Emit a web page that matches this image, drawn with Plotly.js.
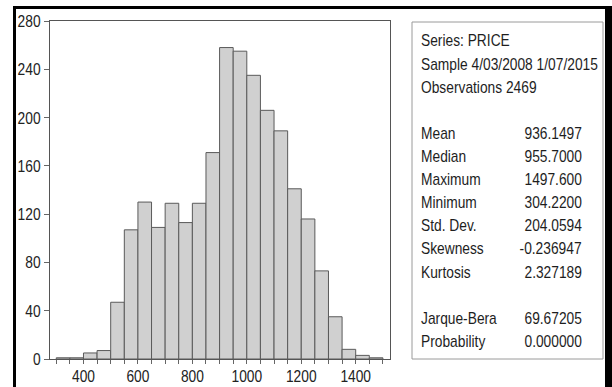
<!DOCTYPE html>
<html>
<head>
<meta charset="utf-8">
<script src="https://cdn.plot.ly/plotly-3.0.1.min.js"></script>
<style>
  html, body { margin: 0; padding: 0; background: #fff; }
  #chart { width: 612px; height: 387px; }
</style>
</head>
<body>
<div id="chart"></div>
<script>
// ---- data ----
const binStarts = [300, 350, 400, 450, 500, 550, 600, 650, 700, 750, 800, 850,
                   900, 950, 1000, 1050, 1100, 1150, 1200, 1250, 1300, 1350, 1400, 1450];
const binWidth = 50;
const counts = [1, 1, 5, 7, 47, 107, 130, 109, 129, 113, 129, 171,
                258, 255, 235, 206, 189, 141, 116, 73, 35, 8, 3, 1];
const yTicks = [0, 40, 80, 120, 160, 200, 240, 280];
const xTicks = [400, 600, 800, 1000, 1200, 1400];

const headerLines = ["Series: PRICE", "Sample 4/03/2008 1/07/2015", "Observations 2469"];
const statLabels = ["Mean", "Median", "Maximum", "Minimum", "Std. Dev.", "Skewness", "Kurtosis", "", "Jarque-Bera", "Probability"];
const statValues = ["936.1497", "955.7000", "1497.600", "304.2200", "204.0594", "-0.236947", "2.327189", "", "69.67205", "0.000000"];

// ---- geometry helpers (pixel -> paper) ----
const W = 612, H = 387;
const M = {l: 50, r: 222, t: 21, b: 28};
const PW = W - M.l - M.r, PH = H - M.t - M.b;
const px = x => (x - M.l) / PW;
const py = y => (H - M.b - y) / PH;

const FONT = "'Liberation Sans Narrow', 'Arial Narrow', 'Liberation Sans', Arial, sans-serif";
const FS = 17;
const NARROW = 0.81;   // horizontal condensation, like Arial Narrow

const centers = binStarts.map(s => s + binWidth / 2);

const trace = {
  type: 'bar',
  x: centers,
  y: counts,
  width: binStarts.map(() => binWidth),
  marker: {color: '#d0d0d0', line: {color: '#5a5a5a', width: 1}},
  hoverinfo: 'x+y'
};

const shapes = [
  // stats box
  {type: 'rect', xref: 'paper', yref: 'paper', x0: px(412), x1: px(603), y0: py(359), y1: py(22),
   line: {color: '#9a9a9a', width: 1}, fillcolor: 'rgba(0,0,0,0)', layer: 'below'},
  // black frame pieces
  {type: 'rect', xref: 'paper', yref: 'paper', x0: px(13), x1: px(612), y0: py(9), y1: py(6),
   line: {width: 0}, fillcolor: '#000'},
  {type: 'rect', xref: 'paper', yref: 'paper', x0: px(13), x1: px(16), y0: py(387), y1: py(6),
   line: {width: 0}, fillcolor: '#000'},
  {type: 'rect', xref: 'paper', yref: 'paper', x0: px(605), x1: px(612), y0: py(387), y1: py(6),
   line: {width: 0}, fillcolor: '#000'}
];

const annotations = [];
const lineY0 = 41, lineStep = 23.1;
headerLines.forEach((t, i) => {
  annotations.push({xref: 'paper', yref: 'paper', x: px(419), y: py(lineY0 + i * lineStep),
    xanchor: 'left', yanchor: 'middle', align: 'left', text: t, showarrow: false,
    font: {family: FONT, size: FS, color: '#1e1e1e'}});
});
statLabels.forEach((t, i) => {
  if (!t) return;
  const yy = lineY0 + (i + 4) * lineStep;
  annotations.push({xref: 'paper', yref: 'paper', x: px(419), y: py(yy),
    xanchor: 'left', yanchor: 'middle', align: 'left', text: t, showarrow: false,
    font: {family: FONT, size: FS, color: '#1e1e1e'}});
  annotations.push({xref: 'paper', yref: 'paper', x: px(584), y: py(yy),
    xanchor: 'right', yanchor: 'middle', align: 'right', text: statValues[i], showarrow: false,
    font: {family: FONT, size: FS, color: '#1e1e1e'}});
});

const layout = {
  width: W, height: H,
  margin: M,
  paper_bgcolor: '#fff', plot_bgcolor: '#fff',
  showlegend: false,
  bargap: 0,
  font: {family: FONT, size: FS, color: '#222'},
  xaxis: {
    range: [277, 1526],
    tickmode: 'array', tickvals: xTicks, ticktext: xTicks.map(String),
    ticks: 'outside', ticklen: 4, tickcolor: '#666', tickwidth: 1,
    ticklabelstandoff: -2,
    minor: {tickmode: 'linear', tick0: 300, dtick: 50, ticks: 'outside', ticklen: 4, tickcolor: '#666', tickwidth: 1, showgrid: false},
    showgrid: false, zeroline: false,
    showline: true, linecolor: '#555', linewidth: 1, mirror: true,
    tickfont: {family: FONT, size: FS, color: '#222'}
  },
  yaxis: {
    range: [0, 280],
    tickmode: 'array', tickvals: yTicks, ticktext: yTicks.map(String),
    ticks: 'outside', ticklen: 5, tickcolor: '#666', tickwidth: 1,
    showgrid: false, zeroline: false,
    showline: true, linecolor: '#555', linewidth: 1, mirror: true,
    tickfont: {family: FONT, size: FS, color: '#222'}
  },
  shapes: shapes,
  annotations: annotations
};

function condense(el, keepAnchor) {
  const w = el.getComputedTextLength();
  if (!(w > 0)) return;
  const before = el.getBBox();
  el.setAttribute('textLength', (w * NARROW).toFixed(2));
  el.setAttribute('lengthAdjust', 'spacingAndGlyphs');
  if (!keepAnchor) return;
  const after = el.getBBox();
  const anchor = window.getComputedStyle(el).textAnchor || el.getAttribute('text-anchor') || 'start';
  let shift = 0;
  if (anchor === 'middle') shift = (before.x + before.width / 2) - (after.x + after.width / 2);
  else if (anchor === 'end') shift = (before.x + before.width) - (after.x + after.width);
  else shift = before.x - after.x;
  if (Math.abs(shift) > 0.01) {
    const x0 = parseFloat(el.getAttribute('x') || '0');
    el.setAttribute('x', (x0 + shift).toFixed(2));
  }
}

Plotly.newPlot('chart', [trace], layout, {displayModeBar: false, staticPlot: true}).then(() => {
  // condense text horizontally (no narrow face is installed)
  document.querySelectorAll('#chart .xtick text, #chart .ytick text').forEach(el => condense(el, true));
  document.querySelectorAll('#chart .annotation-text').forEach(el => condense(el, false));
});
</script>
</body>
</html>
